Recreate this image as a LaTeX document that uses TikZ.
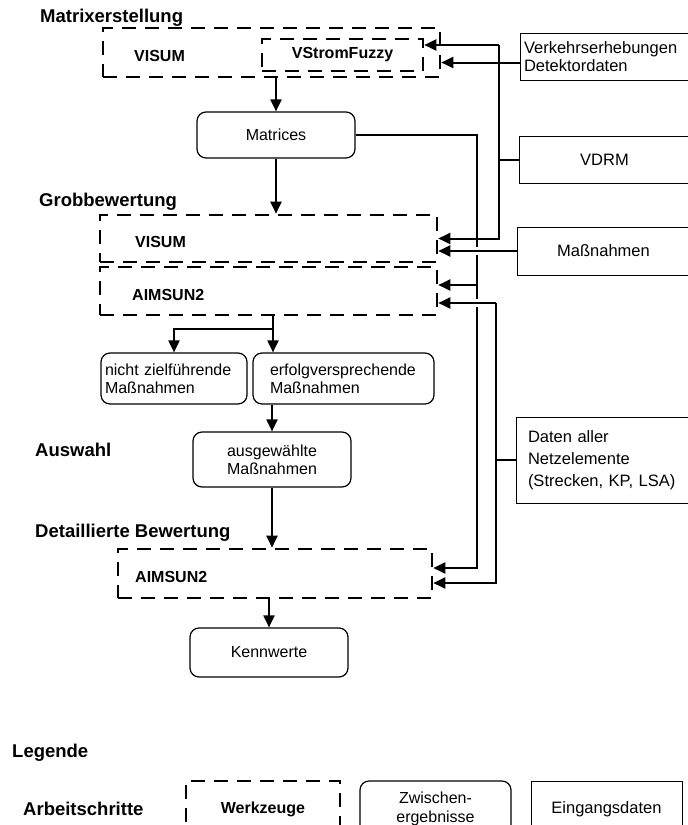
\documentclass[tikz,border=0pt]{standalone}
\usepackage{fontspec}
\setmainfont{Liberation Sans}
\usetikzlibrary{positioning,calc,arrows.meta}

\tikzset{
  werkzeug/.style={shape=rectangle,draw=black,line width=2.6pt,dash pattern=on 14pt off 9pt,font=\fontsize{16}{18}\selectfont\bfseries},
  zwischen/.style={shape=rectangle,draw=black,line width=1.2pt,rounded corners=9pt,font=\fontsize{16}{18}\selectfont},
  eingang/.style={shape=rectangle,draw=black,line width=1pt,font=\fontsize{16.5}{18}\selectfont},
  titel/.style={anchor=west,inner sep=0pt,font=\fontsize{18.5}{21}\selectfont\bfseries},
  wzname/.style={anchor=west,inner sep=0pt,font=\fontsize{16}{18}\selectfont\bfseries},
  pfeil/.style={line width=2pt,-{Triangle[length=12pt,width=11pt]}},
  linie/.style={line width=2pt},
  bruecke/.style={preaction={draw=white,line width=8pt,-,shorten >=14pt}}
}

\begin{document}
\begin{tikzpicture}[x=1pt,y=-1pt]
\useasboundingbox (0,0) rectangle (688,825);
\clip (0,0) rectangle (688,825);

\node[titel] (t1) at (40,18) {Matrixerstellung};
\node[titel] (t2) at (39,202) {Grobbewertung};
\node[titel] (t3) at (35,450) {Auswahl};
\node[titel] (t4) at (35,533) {Detaillierte Bewertung};
\node[titel] (t5) at (12,753) {Legende};
\node[titel] (t6) at (23,809) {Arbeitschritte};

\node[werkzeug,minimum width=337pt,minimum height=49pt] (mx) at (271.5,52.5) {};
\node[wzname] (mxvisum) at (134,56) {VISUM};
\node[werkzeug,minimum width=161pt,minimum height=32pt] (vsf) at (342.5,55) {VStromFuzzy};
\node[werkzeug,minimum width=337pt,minimum height=47pt] (grobvis) at (268.5,238.5) {};
\node[wzname] (grobvislab) at (135,242) {VISUM};
\node[werkzeug,minimum width=337pt,minimum height=48pt] (grobaim) at (268.5,291) {};
\node[wzname] (grobaimlab) at (132,295) {AIMSUN2};
\node[werkzeug,minimum width=314pt,minimum height=49pt] (detail) at (275,573.5) {};
\node[wzname] (detaillab) at (135,577) {AIMSUN2};

\node[zwischen,minimum width=158pt,minimum height=46pt] (matrices) at (276,135) {Matrices};
\node[zwischen,minimum height=51pt,text width=138pt,align=left,inner xsep=4pt] (nicht) at (174,378.5) {nicht zielführende\\Maßnahmen};
\node[zwischen,minimum height=51pt,text width=147pt,align=left,inner xsep=17pt] (erfolg) at (343.5,378.5) {erfolgversprechende\\Maßnahmen};
\node[zwischen,minimum width=158pt,minimum height=55pt,align=center] (ausgew) at (272,459.5) {ausgewählte\\Maßnahmen};
\node[zwischen,minimum width=158pt,minimum height=49pt] (kenn) at (269,652.5) {Kennwerte};

\node[eingang,minimum height=47pt,text width=162pt,align=left,inner xsep=4pt] (verkehr) at (605,56.5) {Verkehrserhebungen\\Detektordaten};
\node[eingang,minimum width=171pt,minimum height=47pt] (vdrm) at (604.5,159.5) {VDRM};
\node[eingang,minimum width=173pt,minimum height=48pt] (masz) at (603.5,251) {Maßnahmen};
\node[eingang,minimum height=86pt,text width=150pt,align=left,inner xsep=12pt,font=\fontsize{16.5}{22}\selectfont] (daten) at (603,460) {Daten aller\\Netzelemente\\(Strecken, KP, LSA)};

\node[werkzeug,minimum width=154pt,minimum height=56pt] (lwz) at (263,809) {Werkzeuge};
\node[zwischen,minimum width=151pt,minimum height=56pt,align=center,font=\fontsize{16}{19}\selectfont] (lzw) at (435.5,809) {Zwischen-\\ergebnisse};
\node[eingang,minimum width=151pt,minimum height=56pt] (lein) at (606.5,809) {Eingangsdaten};

\coordinate (tA) at (499,45);
\coordinate (tB) at (477,135);
\coordinate (tC) at (496,303);
\coordinate (split) at (273,329);

\draw[pfeil] (mx.south -| matrices.north) -- (matrices.north);
\draw[pfeil] (matrices.south) -- (matrices.south |- grobvis.north);
\draw[linie] (grobaim.south -| split) -- (split);
\draw[pfeil] (split) -| (nicht.north);
\draw[pfeil] (split) -- (split |- erfolg.north);
\draw[pfeil] (ausgew.north |- erfolg.south) -- (ausgew.north);
\draw[pfeil] (ausgew.south) -- (ausgew.south |- detail.north);
\draw[pfeil] (kenn.north |- detail.south) -- (kenn.north);

\draw[linie] (matrices.east) -- (matrices.east -| tB) -- (grobvis.east -| tB);
\draw[pfeil] (grobvis.east -| tB) |- ([yshift=6pt]grobaim.east);
\draw[pfeil] ([yshift=6pt]grobaim.east -| tB) |- ([yshift=5.5pt]detail.east);

\draw[pfeil] (tA) -- (tA -| vsf.east);
\draw[pfeil] (tA) -- (tA |- grobvis.east) -- (grobvis.east);
\draw[linie] (vdrm.west) -- (vdrm.west -| tA);
\draw[pfeil] ([yshift=-6pt]verkehr.west) -- ([yshift=-6pt]verkehr.west -| mx.east);

\draw[pfeil,bruecke] (masz.west) -- (masz.west -| grobvis.east);
\draw[pfeil,bruecke] (tC) -- (tC -| grobaim.east);
\draw[pfeil] (tC) |- ([yshift=-9.5pt]detail.east);
\draw[linie] (daten.west) -- (daten.west -| tC);
\end{tikzpicture}
\end{document}
